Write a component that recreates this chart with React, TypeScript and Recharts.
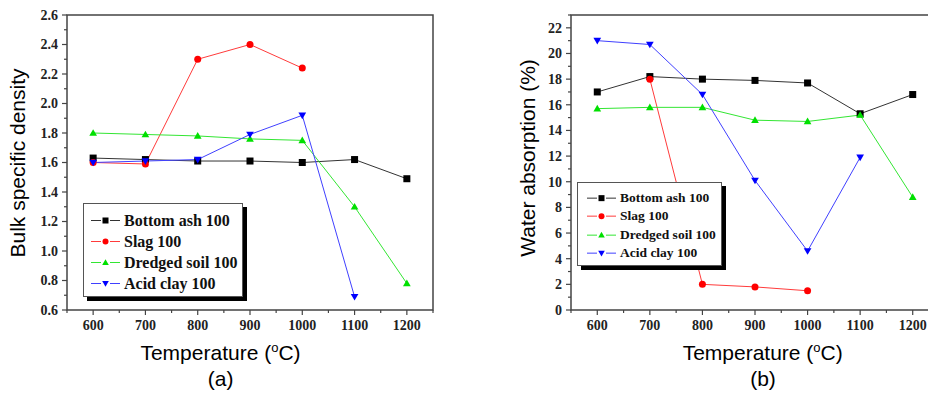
import React from 'react';
import { LineChart, Line, XAxis, YAxis, ReferenceArea, Legend } from 'recharts';

// x categories (firing temperature, degC)
const temperatures = [600, 700, 800, 900, 1000, 1100, 1200];
const tempTicks = [600, 700, 800, 900, 1000, 1100, 1200];
const tempMinorTicks = [550, 650, 750, 850, 950, 1050, 1150, 1250];

// (a) bulk specific density
const densityTicks = [0.6, 0.8, 1.0, 1.2, 1.4, 1.6, 1.8, 2.0, 2.2, 2.4, 2.6];
const densityMinorTicks = [0.7, 0.9, 1.1, 1.3, 1.5, 1.7, 1.9, 2.1, 2.3, 2.5];
const bottomAshDensity = [1.63, 1.62, 1.61, 1.61, 1.6, 1.62, 1.49];
const slagDensity = [1.6, 1.59, 2.3, 2.4, 2.24, null, null];
const dredgedSoilDensity = [1.8, 1.79, 1.78, 1.76, 1.75, 1.3, 0.78];
const acidClayDensity = [1.6, 1.61, 1.62, 1.79, 1.92, 0.69, null];

// (b) water absorption (%)
const absorptionTicks = [0, 2, 4, 6, 8, 10, 12, 14, 16, 18, 20, 22];
const absorptionMinorTicks = [1, 3, 5, 7, 9, 11, 13, 15, 17, 19, 21, 23];
const bottomAshAbsorption = [17.0, 18.2, 18.0, 17.9, 17.7, 15.3, 16.8];
const slagAbsorption = [null, 18.0, 2.0, 1.8, 1.5, null, null];
const dredgedSoilAbsorption = [15.7, 15.8, 15.8, 14.8, 14.7, 15.2, 8.8];
const acidClayAbsorption = [21.0, 20.7, 16.8, 10.1, 4.6, 11.9, null];

const seriesNames = ['Bottom ash 100', 'Slag 100', 'Dredged soil 100', 'Acid clay 100'];

const series = [
  { key: 'bottomAsh', name: seriesNames[0], color: '#000000', line: '#333333', shape: 'square' },
  { key: 'slag', name: seriesNames[1], color: '#ff0000', line: '#ff3b3b', shape: 'circle' },
  { key: 'dredgedSoil', name: seriesNames[2], color: '#00e000', line: '#33e633', shape: 'up' },
  { key: 'acidClay', name: seriesNames[3], color: '#0000ff', line: '#4040ff', shape: 'down' },
];

const densityData = temperatures.map((t, i) => ({
  temp: t,
  bottomAsh: bottomAshDensity[i],
  slag: slagDensity[i],
  dredgedSoil: dredgedSoilDensity[i],
  acidClay: acidClayDensity[i],
}));

const absorptionData = temperatures.map((t, i) => ({
  temp: t,
  bottomAsh: bottomAshAbsorption[i],
  slag: slagAbsorption[i],
  dredgedSoil: dredgedSoilAbsorption[i],
  acidClay: acidClayAbsorption[i],
}));

const AXIS = '#444444';
const TICK_FONT = { fontFamily: '"Liberation Serif", serif', fontWeight: 700, fontSize: 14, fill: '#222' };

const Marker = ({ shape, cx, cy, color, size }: any) => {
  const h = size / 2;
  if (shape === 'square') return <rect x={cx - h} y={cy - h} width={size} height={size} fill={color} />;
  if (shape === 'circle') return <circle cx={cx} cy={cy} r={h} fill={color} />;
  if (shape === 'up')
    return <polygon points={`${cx},${cy - h * 1.1} ${cx - h * 1.1},${cy + h * 0.8} ${cx + h * 1.1},${cy + h * 0.8}`} fill={color} />;
  return <polygon points={`${cx},${cy + h * 1.1} ${cx - h * 1.1},${cy - h * 0.8} ${cx + h * 1.1},${cy - h * 0.8}`} fill={color} />;
};

const makeDot = (shape: string, color: string) => (props: any) => {
  const { cx, cy, index, value } = props;
  if (cx == null || cy == null || value == null) return <g key={index} />;
  return <Marker key={index} shape={shape} cx={cx} cy={cy} color={color} size={7} />;
};

const makeXTick = (majors: number[]) => (props: any) => {
  const { x, y, payload } = props;
  const major = majors.includes(payload.value);
  return (
    <g>
      <line x1={x} y1={y} x2={x} y2={y + (major ? 5 : 3)} stroke={AXIS} strokeWidth={1.2} />
      {major && (
        <text x={x} y={y + 20} textAnchor="middle" {...TICK_FONT}>
          {payload.value}
        </text>
      )}
    </g>
  );
};

const makeYTick = (majors: number[], digits: number) => (props: any) => {
  const { x, y, payload } = props;
  const major = majors.includes(payload.value);
  return (
    <g>
      <line x1={x} y1={y} x2={x - (major ? 5 : 3)} y2={y} stroke={AXIS} strokeWidth={1.2} />
      {major && (
        <text x={x - 9} y={y} dy="0.35em" textAnchor="end" {...TICK_FONT}>
          {payload.value.toFixed(digits)}
        </text>
      )}
    </g>
  );
};

const LegendBox = ({ width, height, fontSize, rowHeight, padTop, lineX }: any) => (
  <div
    style={{
      width,
      height,
      boxSizing: 'border-box',
      background: '#fff',
      border: '1px solid #555',
      boxShadow: '4px 4px 0 #000',
      paddingTop: padTop,
    }}
  >
    {series.map((s) => (
      <div key={s.key} style={{ display: 'flex', alignItems: 'center', height: rowHeight }}>
        <svg width={lineX + 34} height={rowHeight} style={{ flex: 'none' }}>
          <line x1={lineX} x2={lineX + 10} y1={rowHeight / 2} y2={rowHeight / 2} stroke={s.line} strokeWidth={1} />
          <line x1={lineX + 19} x2={lineX + 29} y1={rowHeight / 2} y2={rowHeight / 2} stroke={s.line} strokeWidth={1} />
          <Marker shape={s.shape} cx={lineX + 14.5} cy={rowHeight / 2} color={s.color} size={6} />
        </svg>
        <span
          style={{
            fontFamily: '"Liberation Serif", serif',
            fontWeight: 700,
            fontSize,
            color: '#111',
            whiteSpace: 'nowrap',
            marginLeft: -1,
          }}
        >
          {s.name}
        </span>
      </div>
    ))}
  </div>
);

const Panel = ({ data, width, marginLeft, marginRight, yDomain, yTicks, yMinor, digits, legend }: any) => (
  <LineChart
    width={width}
    height={394}
    data={data}
    margin={{ top: 15, right: marginRight, bottom: 54, left: marginLeft }}
  >
    <ReferenceArea x1={550} x2={1250} y1={yDomain[0]} y2={yDomain[1]} fill="none" stroke={AXIS} strokeWidth={1.5} />
    <XAxis
      dataKey="temp"
      type="number"
      domain={[550, 1250]}
      ticks={[...tempTicks, ...tempMinorTicks].sort((a, b) => a - b)}
      interval={0}
      axisLine={false}
      tickLine={false}
      tickSize={0}
      tickMargin={0}
      height={30}
      tick={makeXTick(tempTicks)}
    />
    <YAxis
      type="number"
      domain={yDomain}
      ticks={[...yTicks, ...yMinor].sort((a, b) => a - b)}
      interval={0}
      axisLine={false}
      tickLine={false}
      tickSize={0}
      tickMargin={0}
      width={47}
      tick={makeYTick(yTicks, digits)}
    />
    {series.map((s) => (
      <Line
        key={s.key}
        dataKey={s.key}
        name={s.name}
        type="linear"
        stroke={s.line}
        strokeWidth={1}
        dot={makeDot(s.shape, s.color)}
        activeDot={false}
        isAnimationActive={false}
      />
    ))}
    <Legend
      layout="vertical"
      align="center"
      verticalAlign="middle"
      wrapperStyle={{ left: legend.left, top: legend.top, width: legend.width, height: legend.height }}
      content={() => <LegendBox {...legend} />}
    />
  </LineChart>
);

const TITLE_FONT = { fontFamily: '"Liberation Sans", Arial, sans-serif', fontSize: 21, fill: '#000' };

export default function App() {
  return (
    <div style={{ position: 'absolute', left: 0, top: 0, width: 928, height: 394, overflow: 'hidden', background: '#fff' }}>
      <div style={{ position: 'absolute', left: 0, top: 0 }}>
        <Panel
          data={densityData}
          width={464}
          marginLeft={20}
          marginRight={31}
          yDomain={[0.6, 2.6]}
          yTicks={densityTicks}
          yMinor={densityMinorTicks}
          digits={1}
          legend={{ left: 83, top: 203, width: 160, height: 94, fontSize: 16, rowHeight: 21, padTop: 6, lineX: 7 }}
        />
      </div>
      <div style={{ position: 'absolute', left: 464, top: 0 }}>
        <Panel
          data={absorptionData}
          width={500}
          marginLeft={60}
          marginRight={25}
          yDomain={[0, 23]}
          yTicks={absorptionTicks}
          yMinor={absorptionMinorTicks}
          digits={0}
          legend={{ left: 113, top: 182, width: 145, height: 84, fontSize: 13.5, rowHeight: 18.3, padTop: 6, lineX: 9 }}
        />
      </div>
      <svg width={928} height={394} style={{ position: 'absolute', left: 0, top: 0, pointerEvents: 'none' }}>
        <text transform="translate(25,163) rotate(-90)" textAnchor="middle" {...TITLE_FONT}>
          Bulk specific density
        </text>
        <text x={220.5} y={360} textAnchor="middle" {...TITLE_FONT}>
          Temperature (<tspan dy={-8} fontSize={13}>o</tspan>
          <tspan dy={8}>C)</tspan>
        </text>
        <text x={220.7} y={386} textAnchor="middle" {...TITLE_FONT}>
          (a)
        </text>
        <text transform="translate(535,158) rotate(-90)" textAnchor="middle" {...TITLE_FONT}>
          Water absorption (%)
        </text>
        <text x={762.7} y={360} textAnchor="middle" {...TITLE_FONT}>
          Temperature (<tspan dy={-8} fontSize={13}>o</tspan>
          <tspan dy={8}>C)</tspan>
        </text>
        <text x={763} y={386} textAnchor="middle" {...TITLE_FONT}>
          (b)
        </text>
      </svg>
    </div>
  );
}
